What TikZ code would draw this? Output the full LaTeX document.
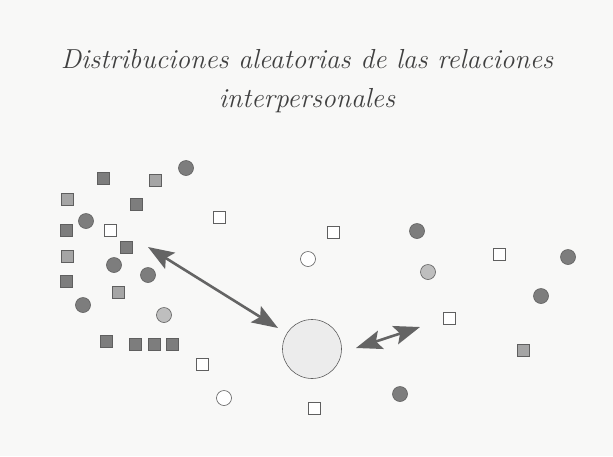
\documentclass[tikz,border=0pt]{standalone}
\usetikzlibrary{arrows.meta}
\definecolor{bg}{RGB}{248,248,247}
\definecolor{darkf}{RGB}{125,125,125}
\definecolor{midf}{RGB}{165,165,165}
\definecolor{lightf}{RGB}{190,190,190}
\definecolor{bigf}{RGB}{236,236,236}
\definecolor{edgec}{RGB}{95,95,95}
\definecolor{arrowc}{RGB}{100,100,100}
\tikzset{
  sq/.style={rectangle,draw=edgec,line width=0.6pt,minimum size=12pt,inner sep=0pt},
  ci/.style={circle,draw=edgec,line width=0.6pt,minimum size=15pt,inner sep=0pt},
  dsq/.style={sq,fill=darkf},
  msq/.style={sq,fill=midf},
  wsq/.style={sq,fill=white},
  dci/.style={ci,fill=darkf},
  mci/.style={ci,fill=lightf},
  wci/.style={ci,fill=white},
  rel/.style={draw=arrowc,line width=2.6pt,{Stealth[length=26pt,width=19pt,inset=5pt]}-{Stealth[length=26pt,width=19pt,inset=5pt]}},
  title/.style={font=\fontsize{27.5}{33}\selectfont\itshape,text=black!75}
}
\begin{document}
\begin{tikzpicture}[x=1pt,y=-1pt]
\fill[bg] (0,0) rectangle (613,456);
\useasboundingbox (0,0) rectangle (613,456);
\node[title] (t1) at (307,59) {Distribuciones aleatorias de las relaciones};
\node[title] (t2) at (307,101) {interpersonales};
% left cluster
\node[dci] (c1) at (186,168) {};
\node[dsq] (s1) at (103,178) {};
\node[msq] (s2) at (155,180) {};
\node[msq] (s3) at (67,199) {};
\node[dsq] (s4) at (136,204) {};
\node[wsq] (s5) at (219,217) {};
\node[dci] (c2) at (86,221) {};
\node[dsq] (s6) at (66,230) {};
\node[wsq] (s7) at (110,230) {};
\node[dsq] (s8) at (126,247) {};
\node[msq] (s9) at (67,256) {};
\node[dci] (c3) at (114,265) {};
\node[dci] (c4) at (148,275) {};
\node[dsq] (s10) at (66,281) {};
\node[msq] (s11) at (118,292) {};
\node[dci] (c5) at (83,305) {};
\node[mci] (c6) at (164,315) {};
\node[dsq] (s12) at (106,341) {};
\node[dsq] (s13) at (135,344) {};
\node[dsq] (s14) at (154,344) {};
\node[dsq] (s15) at (172,344) {};
\node[wsq] (s16) at (202,364) {};
% middle
\node[wsq] (s17) at (333,232) {};
\node[wci] (c7) at (308,259) {};
\node[wci] (c8) at (224,398) {};
\node[wsq] (s18) at (314,408) {};
\node[circle,draw=edgec,line width=0.6pt,fill=bigf,minimum size=59pt,inner sep=0pt] (big) at (312,349) {};
% right
\node[dci] (c9) at (417,231) {};
\node[mci] (c10) at (428,272) {};
\node[wsq] (s19) at (449,318) {};
\node[dci] (c11) at (400,394) {};
\node[wsq] (s20) at (499,254) {};
\node[dci] (c12) at (568,257) {};
\node[dci] (c13) at (541,296) {};
\node[msq] (s21) at (523,350) {};
% arrows
\coordinate (a1s) at (148,247);
\coordinate (a1e) at (278,328);
\coordinate (a2s) at (356,348);
\coordinate (a2e) at (420,327);
\draw[rel] (a1s) -- (a1e);
\draw[rel] (a2s) -- (a2e);
\end{tikzpicture}
\end{document}
